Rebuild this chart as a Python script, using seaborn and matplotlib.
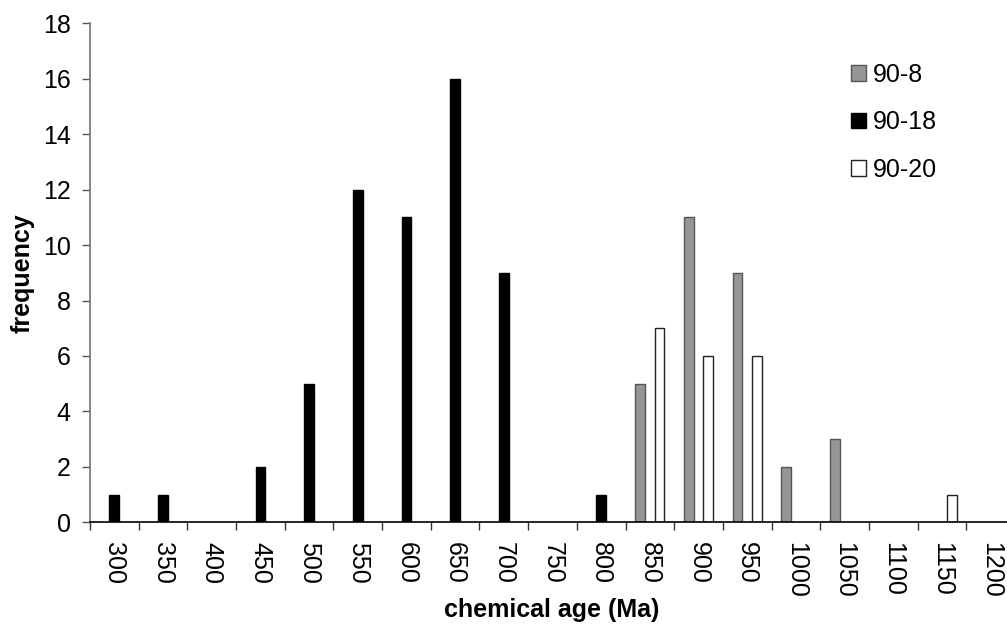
#!/usr/bin/env python3

import matplotlib
matplotlib.use("Agg")
import matplotlib.pyplot as plt
from matplotlib.patches import Patch
import seaborn as sns
import pandas as pd

# chemical age bins (Ma)
ages = [300, 350, 400, 450, 500, 550, 600, 650, 700, 750,
        800, 850, 900, 950, 1000, 1050, 1100, 1150, 1200]

samples = ["90-8", "90-18", "90-20"]

freq_90_8 = [0, 0, 0, 0, 0, 0, 0, 0, 0, 0,
             0, 5, 11, 9, 2, 3, 0, 0, 0]
freq_90_18 = [1, 1, 0, 2, 5, 12, 11, 16, 9, 0,
              1, 0, 0, 0, 0, 0, 0, 0, 0]
freq_90_20 = [0, 0, 0, 0, 0, 0, 0, 0, 0, 0,
              0, 7, 6, 6, 0, 0, 0, 1, 0]

face_colors = {"90-8": "#969696", "90-18": "#000000", "90-20": "#ffffff"}
edge_colors = {"90-8": "#555555", "90-18": "#000000", "90-20": "#222222"}

FS = 18


def main():
    sns.set_theme(style="white")
    plt.rcParams["font.family"] = ["Liberation Sans", "DejaVu Sans"]
    plt.rcParams["text.color"] = "black"
    plt.rcParams["axes.labelcolor"] = "black"
    plt.rcParams["xtick.labelcolor"] = "black"
    plt.rcParams["ytick.labelcolor"] = "black"

    df = pd.DataFrame({
        "age": [str(a) for a in ages] * 3,
        "sample": [s for s in samples for _ in ages],
        "frequency": freq_90_8 + freq_90_18 + freq_90_20,
    })

    fig = plt.figure(figsize=(10.07, 6.25), dpi=100)
    ax = fig.add_axes([90 / 1007, 1 - 522.3 / 625, 925 / 1007, 499 / 625])

    sns.barplot(
        data=df, x="age", y="frequency", hue="sample",
        hue_order=samples, order=[str(a) for a in ages],
        palette=face_colors, width=0.6, ax=ax, legend=False,
        saturation=1,
    )

    # outline colours per series, hide empty bars
    for container, s in zip(ax.containers, samples):
        for bar in container:
            bar.set_edgecolor(edge_colors[s])
            bar.set_linewidth(1.0)
            if bar.get_height() == 0:
                bar.set_visible(False)

    ax.set_xlim(-0.5, len(ages) - 0.5)
    ax.set_ylim(0, 18)
    ax.set_yticks(range(0, 19, 2))

    # x ticks at the category boundaries, labels at centres
    ax.set_xticks([i - 0.5 for i in range(len(ages) + 1)], minor=False)
    ax.set_xticklabels([])
    ax.set_xticks(range(len(ages)), minor=True)
    ax.set_xticklabels([str(a) for a in ages], minor=True, rotation=270,
                       fontsize=FS)
    ax.tick_params(axis="x", which="major", direction="out", length=6,
                   width=1, color="#333333", bottom=True)
    ax.tick_params(axis="x", which="minor", length=0, pad=14, bottom=True,
                   labelcolor="black")
    ax.tick_params(axis="y", direction="out", length=6, width=1,
                   color="#555555", labelsize=FS, pad=8, left=True,
                   labelcolor="black")

    for side in ["top", "right"]:
        ax.spines[side].set_visible(False)
    ax.spines["left"].set_color("#777777")
    ax.spines["bottom"].set_color("#000000")
    ax.spines["bottom"].set_linewidth(1.2)

    ax.set_xlabel("chemical age (Ma)", fontsize=FS, fontweight="bold",
                  color="black")
    ax.set_ylabel("frequency", fontsize=FS, fontweight="bold", color="black")
    ax.xaxis.label.set_va("center")
    ax.yaxis.label.set_va("center")
    ax.xaxis.set_label_coords(462 / 925, -(610 - 522.3) / 499)
    ax.yaxis.set_label_coords(-(90 - 23) / 925, 0.5)

    handles = [
        Patch(facecolor=face_colors[s], edgecolor=edge_colors[s], label=s)
        for s in samples
    ]
    leg = ax.legend(
        handles=handles, loc="upper left", frameon=False,
        bbox_to_anchor=(828 / 1007, 1 - 40 / 625),
        bbox_transform=fig.transFigure, fontsize=FS,
        handlelength=0.6, handleheight=0.6, handletextpad=0.3,
        labelspacing=0.95, borderpad=0.4,
    )
    for t in leg.get_texts():
        t.set_color("black")

    fig.savefig("out.png", dpi=100)
    plt.close(fig)


if __name__ == "__main__":
    main()
